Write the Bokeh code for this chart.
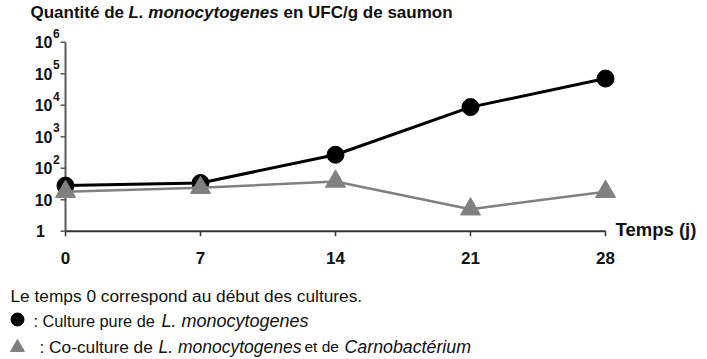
import math
from bokeh.plotting import figure
from bokeh.models import Range1d
from bokeh.core.properties import value
from bokeh.embed import file_html
from bokeh.resources import INLINE

# ---- data ----
days = [0, 7, 14, 21, 28]
pure_culture = [28, 34, 267, 8700, 70000]      # UFC/g, L. monocytogenes seule
co_culture = [18, 24, 38, 5, 18]               # UFC/g, avec Carnobacterium
x_ticks = [0, 7, 14, 21, 28]
y_exponents = [0, 1, 2, 3, 4, 5, 6]

# ---- layout (reference pixel geometry) ----
W, H = 707, 359
OFF = 0                       # where the canvas starts on the photographed page
PX_X0, PX_X1 = 65.0, 605.0    # pixel of first / last x tick
PX_E0, PX_E1 = 230.7, 41.7    # pixel of lowest / highest decade
FONT = "Liberation Sans"
X0, X1 = min(x_ticks), max(x_ticks)
E0, E1 = min(y_exponents), max(y_exponents)
DEC = (PX_E0 - PX_E1) / (E1 - E0)


def xd(px):
    return X0 + (px - PX_X0) / (PX_X1 - PX_X0) * (X1 - X0)


def yd(py):
    return 10 ** (E0 + (PX_E0 - py) / DEC)


def ypx(v):
    return PX_E0 - (math.log10(v) - E0) * DEC


p = figure(width=W, height=H, output_backend="svg", toolbar_location=None,
           x_range=Range1d(xd(OFF), xd(OFF + W)),
           y_range=Range1d(yd(OFF + H), yd(OFF)),
           y_axis_type="log", x_axis_location=None, y_axis_location=None,
           min_border=0)
p.outline_line_color = None
p.grid.visible = False
p.background_fill_color = "white"
p.border_fill_color = "white"

AX_X = "#333333"
AX_Y = "#5a5a5a"
TICK = 5
y_ticks = [10 ** e for e in y_exponents]
ylow, yhigh = 10 ** E0, 10 ** E1

# axes lines
p.segment(x0=[X0], y0=[ylow], x1=[X1], y1=[ylow], line_color=AX_X, line_width=2)
p.segment(x0=[X0], y0=[ylow], x1=[X0], y1=[yhigh], line_color=AX_Y, line_width=2)
# tick marks
p.segment(x0=x_ticks, y0=[ylow] * len(x_ticks), x1=x_ticks,
          y1=[yd(PX_E0 + TICK)] * len(x_ticks), line_color=AX_X, line_width=1.5)
p.segment(x0=[X0] * len(y_ticks), y0=y_ticks, x1=[xd(PX_X0 - TICK)] * len(y_ticks),
          y1=y_ticks, line_color=AX_Y, line_width=1.5)


def txt(xs, ys, texts, size="17px", style="bold", align="left", baseline="middle",
        color="#111111"):
    p.text(x=xs, y=ys, text=texts, text_font=value(FONT), text_font_size=value(size),
           text_font_style=style, text_align=align, text_baseline=baseline,
           text_color=color)


# x tick labels
txt(x_ticks, [yd(257.5)] * len(x_ticks), [str(t) for t in x_ticks], align="center")

# y tick labels (10 with superscript exponent)
for e, t in zip(y_exponents, y_ticks):
    ty = ypx(t)
    if e == 0:
        txt([xd(44.5)], [t], ["1"], size="16px", align="right")
        continue
    txt([xd(52)], [t], ["10"], size="16px", align="right")
    if e >= 2:
        txt([xd(52.5)], [yd(ty - 9)], [str(e)], size="12px")

# series
p.line(days, pure_culture, line_color="black", line_width=3)
p.scatter(days, pure_culture, marker="circle", size=17, color="black")
p.line(days, co_culture, line_color="#808080", line_width=2.5)
p.scatter(days, co_culture, marker="triangle", size=20, color="#808080")

# title
txt([xd(30)], [yd(11.7)], ["Quantité de "])
txt([xd(128)], [yd(11.7)], ["L. monocytogenes"], style="bold italic")
txt([xd(283)], [yd(11.7)], ["en UFC/g de saumon"])

# x axis title
txt([xd(615)], [yd(229)], ["Temps (j)"], size="18.5px")

# notes / legend
txt([xd(10)], [yd(295.5)], ["Le temps 0 correspond au début des cultures."],
    size="17.3px", style="normal")
p.scatter([xd(17)], [yd(319)], marker="circle", size=13, color="black")
txt([xd(33)], [yd(320)], [": Culture pure de"], size="16.3px", style="normal")
txt([xd(161)], [yd(320)], ["L. monocytogenes"], size="18px", style="italic")
p.scatter([xd(17)], [yd(347)], marker="triangle", size=14, color="#808080")
txt([xd(39)], [yd(346)], [": Co-culture de"], size="17.3px", style="normal")
txt([xd(158)], [yd(346)], ["L. monocytogenes"], size="17.5px", style="italic")
txt([xd(304)], [yd(346)], ["et de"], size="15.5px", style="normal")
txt([xd(344)], [yd(346)], ["Carnobactérium"], size="17.8px", style="italic")

open("out.html", "w").write(file_html(p, INLINE))
